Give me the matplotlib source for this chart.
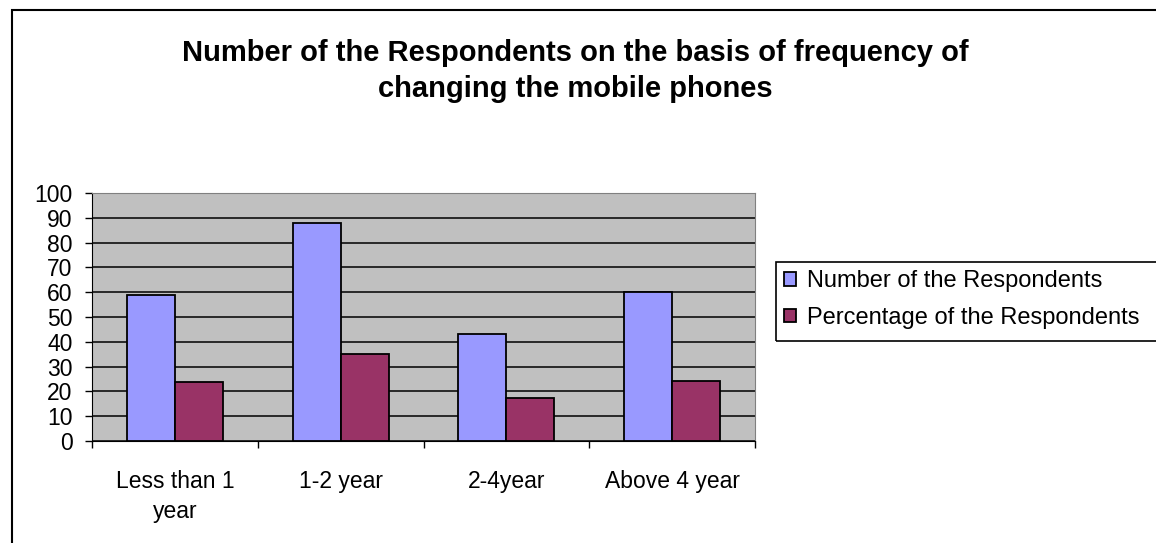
import numpy as np
import matplotlib
matplotlib.use("Agg")
from matplotlib import pyplot as plt
from matplotlib.patches import Rectangle

plt.rcParams['font.family'] = ['Liberation Sans', 'DejaVu Sans']

categories = ["Less than 1\nyear", "1-2 year", "2-4year", "Above 4 year"]
respondents = [59, 88, 43, 60]
percentage = [23.6, 35.2, 17.2, 24]
series_names = ["Number of the Respondents", "Percentage of the Respondents"]
yticks = list(range(0, 101, 10))

fig = plt.figure(figsize=(11.56, 5.43), dpi=100)
ax = fig.add_axes([92/1156, 1 - 441/543, (755 - 92)/1156, (441 - 193)/543])

# outer chart border (right and bottom edges fall outside the image)
fig.patches.append(Rectangle((12/1156, -0.2), 1.2, 1 - 10/543 + 0.2,
                             transform=fig.transFigure, fill=False,
                             edgecolor='black', linewidth=1.5))
# legend box, its right edge runs off the image as well
fig.patches.append(Rectangle((776/1156, 1 - 341/543), 0.5, 79/543,
                             transform=fig.transFigure, fill=False,
                             edgecolor='black', linewidth=1.2))

x = np.arange(len(categories))
w = 0.29
ax.set_facecolor('#C0C0C0')
ax.bar(x - w/2, respondents, w, color='#9999FF', edgecolor='black', linewidth=1.3,
       label=series_names[0], zorder=3)
ax.bar(x + w/2, percentage, w, color='#993366', edgecolor='black', linewidth=1.3,
       label=series_names[1], zorder=3)

ax.set_xlim(-0.5, len(categories) - 0.5)
ax.set_ylim(0, 100)
ax.set_yticks(yticks)
ax.yaxis.grid(True, color='black', linewidth=1.1, zorder=0)
ax.set_axisbelow(True)

ax.set_xticks(x)
ax.set_xticklabels(categories, fontsize=16.5, linespacing=1.4)
ax.set_xticks(np.arange(len(categories) + 1) - 0.5, minor=True)
ax.tick_params(axis='x', which='major', length=0, pad=21)
ax.tick_params(axis='x', which='minor', length=5, width=1, direction='out')
ax.tick_params(axis='y', labelsize=16.5, length=5, width=1, direction='out', pad=9)

for side in ['top', 'right']:
    ax.spines[side].set_color('#808080')
for side in ['left', 'bottom']:
    ax.spines[side].set_color('black')

fig.text(575/1156, 1 - 53/543, "Number of the Respondents on the basis of frequency of",
         ha='center', va='center', fontsize=21, fontweight='bold')
fig.text(575/1156, 1 - 89/543, "changing the mobile phones",
         ha='center', va='center', fontsize=21, fontweight='bold')

leg = fig.legend(loc='upper left', bbox_to_anchor=(776/1156, 1 - 262/543),
                 fontsize=17, frameon=False,
                 handlelength=0.5, handleheight=0.5, handletextpad=0.45,
                 borderpad=0.35, labelspacing=0.62, borderaxespad=0)

fig.savefig("out.png", dpi=100)
